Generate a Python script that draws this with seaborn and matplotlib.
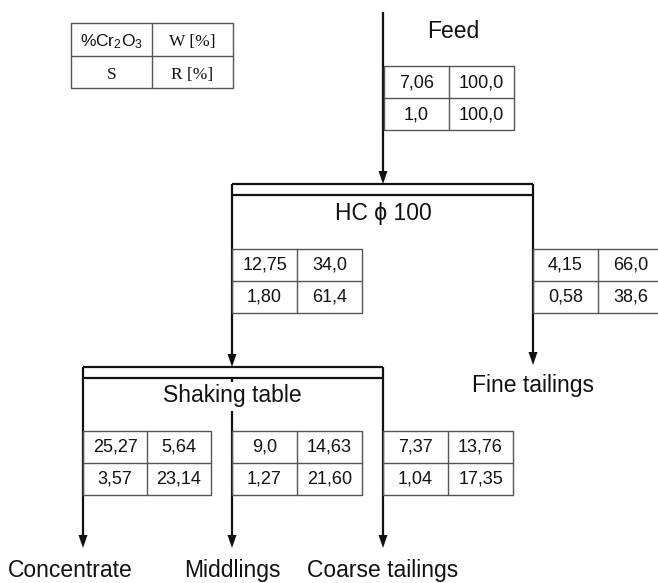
import matplotlib
matplotlib.use("Agg")
import matplotlib.pyplot as plt
import seaborn as sns

# stream data (decimal comma kept as printed)
streams = ["Feed", "HC underflow", "Fine tailings", "Concentrate", "Middlings", "Coarse tailings"]
grade_cr2o3 = ["7,06", "12,75", "4,15", "25,27", "9,0", "7,37"]
weight_pct = ["100,0", "34,0", "66,0", "5,64", "14,63", "13,76"]
ratio_s = ["1,0", "1,80", "0,58", "3,57", "1,27", "1,04"]
recovery_pct = ["100,0", "61,4", "38,6", "23,14", "21,60", "17,35"]

legend_cells = ["%Cr$\\mathregular{_2}$O$\\mathregular{_3}$", "W [%]", "S", "R [%]"]

sns.set_theme(style="white")
plt.rcParams["font.family"] = ["Liberation Sans", "DejaVu Sans"]

fig = plt.figure(figsize=(6.58, 5.83), dpi=100)
ax = fig.add_axes([0, 0, 1, 1])
ax.set_xlim(0, 658)
ax.set_ylim(583, 0)
ax.axis("off")

LINE = "#111111"
GRID = "#555555"
LW = 1.6
TLW = 1.0
LABEL_FS = 16.5
CELL_FS = 13


def line(xs, ys):
    ax.plot(xs, ys, color=LINE, lw=LW, solid_capstyle="butt")


def arrow(x, y0, y1):
    line([x, x], [y0, y1 - 10])
    ax.fill([x - 4.5, x + 4.5, x], [y1 - 13, y1 - 13, y1], color=LINE, lw=0)


def label(x, y, s):
    ax.text(x, y, s, ha="center", va="baseline", fontsize=LABEL_FS, color="#111111")


def table(x0, y0, i, w=65, h=32):
    ax.plot([x0, x0 + 2 * w, x0 + 2 * w, x0, x0], [y0, y0, y0 + 2 * h, y0 + 2 * h, y0],
            color=GRID, lw=TLW)
    ax.plot([x0 + w, x0 + w], [y0, y0 + 2 * h], color=GRID, lw=TLW)
    ax.plot([x0, x0 + 2 * w], [y0 + h, y0 + h], color=GRID, lw=TLW)
    vals = [grade_cr2o3[i], weight_pct[i], ratio_s[i], recovery_pct[i]]
    for k, v in enumerate(vals):
        cx = x0 + w * (k % 2) + w / 2
        by = y0 + h * (k // 2) + 21
        ax.text(cx, by, v, ha="center", va="baseline", fontsize=CELL_FS, color="#111111")


# legend table
lx, ly, lw_, lh = 71, 23, 81, 32.5
ax.plot([lx, lx + 2 * lw_, lx + 2 * lw_, lx, lx], [ly, ly, ly + 2 * lh, ly + 2 * lh, ly],
        color=GRID, lw=TLW)
ax.plot([lx + lw_, lx + lw_], [ly, ly + 2 * lh], color=GRID, lw=TLW)
ax.plot([lx, lx + 2 * lw_], [ly + lh, ly + lh], color=GRID, lw=TLW)
for k, t in enumerate(legend_cells):
    cx = lx + lw_ * (k % 2) + lw_ / 2
    by = ly + lh * (k // 2) + 23.5
    fam = "Liberation Sans" if k == 0 else "Liberation Serif"
    ax.text(cx, by, t, ha="center", va="baseline", fontsize=12.5, family=fam, color="#111111")

# feed
arrow(383, 12, 184)
label(453, 38, "Feed")
table(384, 66, 0)

# hydrocyclone
line([232, 533], [184, 184])
line([232, 533], [195, 195])
line([232, 232], [184, 195])
line([533, 533], [184, 195])
label(383, 220, "HC \u03d5 100")
arrow(232, 195, 367)
arrow(533, 195, 365)
table(232, 249, 1)
table(533, 249, 2, w=65)
label(533, 392, "Fine tailings")

# shaking table
line([83, 383], [367, 367])
line([83, 383], [378, 378])
line([83, 83], [367, 378])
line([383, 383], [367, 378])
label(232, 402, "Shaking table")
line([232, 232], [378, 382])
arrow(83, 378, 548)
arrow(232, 411, 548)
arrow(383, 378, 548)
table(83, 431, 3, w=64)
table(232, 431, 4)
table(383, 431, 5)

label(70, 577, "Concentrate")
label(232, 577, "Middlings")
label(383, 577, "Coarse tailings")

fig.savefig("out.png", dpi=100, facecolor="white")
